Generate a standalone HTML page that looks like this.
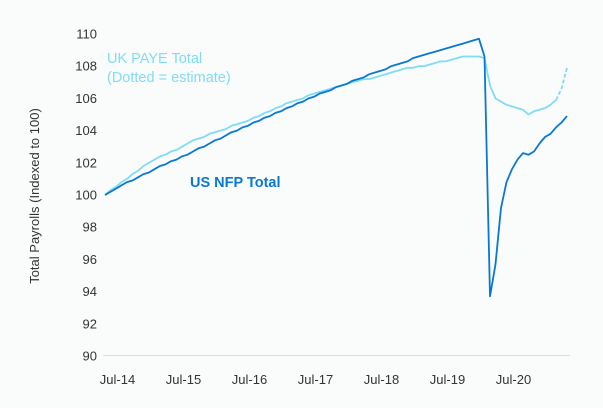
<!DOCTYPE html>
<html><head><meta charset="utf-8"><style>
body{margin:0;background:#fafcfc;}
svg{display:block;font-family:"Liberation Sans",sans-serif;}
</style></head><body>
<svg id="c" width="603" height="408"></svg>
<script>
const usValues=[100.0,100.2,100.4,100.6,100.8,100.9,101.1,101.3,101.4,101.6,101.8,101.9,102.1,
102.2,102.4,102.5,102.7,102.9,103.0,103.2,103.4,103.5,103.7,103.9,104.0,
104.2,104.3,104.5,104.6,104.8,104.9,105.1,105.2,105.4,105.5,105.7,105.8,
106.0,106.1,106.3,106.4,106.5,106.7,106.8,106.9,107.1,107.2,107.3,107.5,
107.6,107.7,107.8,108.0,108.1,108.2,108.3,108.5,108.6,108.7,108.8,108.9,
109.0,109.1,109.2,109.3,109.4,109.5,109.6,109.7,
108.6,93.7,95.7,99.2,100.8,101.6,102.2,102.6,102.5,102.7,103.2,103.6,103.8,104.2,104.5,104.9];
const ukValues=[100.0,100.3,100.5,100.8,101.0,101.3,101.5,101.8,102.0,102.2,102.4,102.5,102.7,
102.8,103.0,103.2,103.4,103.5,103.6,103.8,103.9,104.0,104.1,104.3,104.4,
104.5,104.6,104.8,104.9,105.1,105.2,105.4,105.5,105.7,105.8,105.9,106.0,
106.2,106.3,106.4,106.5,106.6,106.7,106.8,106.9,107.0,107.1,107.2,107.2,
107.3,107.4,107.5,107.6,107.7,107.8,107.9,107.9,108.0,108.0,108.1,108.2,
108.3,108.3,108.4,108.5,108.6,108.6,108.6,108.6,
108.5,106.8,106.0,105.8,105.6,105.5,105.4,105.3,105.0,105.2,105.3,105.4,105.6,105.9,106.6,107.9];
const ukEstimateStart=82;
const xTickLabels=["Jul-14","Jul-15","Jul-16","Jul-17","Jul-18","Jul-19","Jul-20"];
const xTickMonths=[1,13,25,37,49,61,73];
const yTicks=[90,92,94,96,98,100,102,104,106,108,110];

const NS="http://www.w3.org/2000/svg";
const svg=document.getElementById('c');
const x=m=>105+m*5.5;
const y=v=>356-(v-90)*16.1;
function el(t,a,txt){const e=document.createElementNS(NS,t);for(const k in a)e.setAttribute(k,a[k]);if(txt!==undefined)e.textContent=txt;svg.appendChild(e);return e;}

const ax=el('line',{x1:103,y1:355.5,x2:570,y2:355.5,stroke:'#dcdcdc','stroke-width':1});



yTicks.forEach(v=>{
  const t=el('text',{x:97,y:y(v)+4.5,'text-anchor':'end','font-size':13,fill:'#333'},String(v));
  
  
});
xTickLabels.forEach((s,i)=>{
  const t=el('text',{x:x(xTickMonths[i])+7,y:384,'text-anchor':'middle','font-size':13,fill:'#333'},s);
  
  
});
const yt=el('text',{transform:'translate(39,196) rotate(-90)','text-anchor':'middle','font-size':13,fill:'#333'},'Total Payrolls (Indexed to 100)');



function pts(arr,a,b){return arr.slice(a,b).map((v,i)=>x(i+a).toFixed(1)+','+y(v).toFixed(1)).join(' ');}
const uk=el('polyline',{points:pts(ukValues,0,ukEstimateStart+1),fill:'none',stroke:'#80dcf4','stroke-width':1.8,'stroke-linejoin':'round'});


const ukd=el('polyline',{points:pts(ukValues,ukEstimateStart,ukValues.length),fill:'none',stroke:'#80dcf4','stroke-width':1.8,'stroke-dasharray':'4,2'});


const us=el('polyline',{points:pts(usValues,0,usValues.length),fill:'none',stroke:'#0a78d2','stroke-width':1.8,'stroke-linejoin':'round'});



const l1=el('text',{x:107,y:63,'font-size':14.5,fill:'#80dcf4'},'UK PAYE Total');


const l2=el('text',{x:107,y:82,'font-size':14.5,fill:'#80dcf4'},'(Dotted = estimate)');


const l3=el('text',{x:190,y:187,'font-size':14.5,'font-weight':'bold',fill:'#0a78d2'},'US NFP Total');


</script>
</body></html>
